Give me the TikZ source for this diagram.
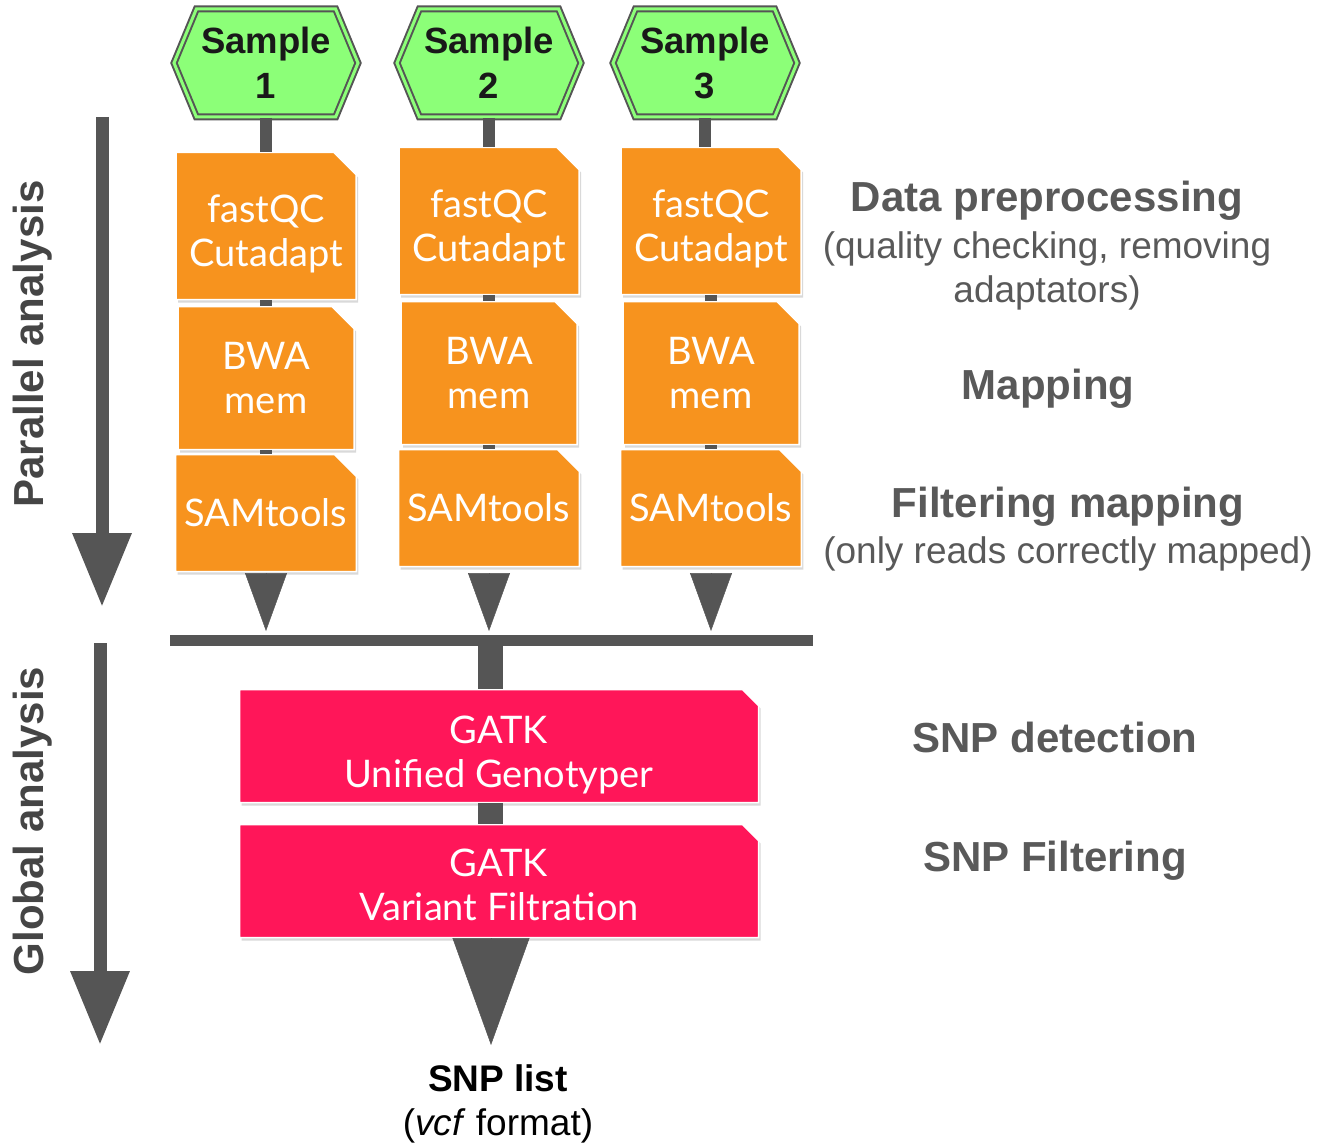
\documentclass[tikz,border=0pt]{standalone}
\usepackage{fontspec}
\setmainfont{Liberation Sans}
\newfontfamily\toolfont{Lato}
\usetikzlibrary{calc,shapes.symbols,shapes.misc,shadows,arrows.meta}
\definecolor{flowgray}{HTML}{555555}
\definecolor{samplegreen}{HTML}{8CFF78}
\definecolor{toolorange}{HTML}{F7931E}
\definecolor{gatkred}{HTML}{FF1659}
\definecolor{labelgray}{HTML}{595959}
\definecolor{axisgray}{HTML}{454545}
\tikzstyle{sample} = [signal, signal to=west and east, signal pointer angle=135, draw=flowgray, line width=2pt, double=samplegreen, double distance=3pt, fill=samplegreen, minimum width=184pt, minimum height=108pt, inner sep=0pt, align=center, text=black!90, font=\fontsize{36.5}{45}\selectfont\bfseries, drop shadow={shadow xshift=2pt, shadow yshift=-3pt, opacity=0.3}]
\tikzstyle{tool} = [chamfered rectangle, chamfered rectangle corners=north east, chamfered rectangle xsep=11pt, chamfered rectangle ysep=11pt, draw=white, line width=1.5pt, fill=toolorange, text=white, align=center, minimum width=180pt, inner xsep=-2pt, inner ysep=0pt, font=\toolfont\fontsize{38}{44}\selectfont, drop shadow={shadow xshift=2pt, shadow yshift=-3pt, opacity=0.3}]
\tikzstyle{gatk} = [tool, fill=gatkred, chamfered rectangle xsep=8pt, chamfered rectangle ysep=8pt, minimum width=519pt, minimum height=113pt]
\tikzstyle{link} = [draw=flowgray, line width=12pt]
\tikzstyle{trunk} = [draw=flowgray, line width=25pt]
\tikzstyle{merge} = [draw=flowgray, line width=0.5pt, shorten <=6pt, -{Triangle[width=42pt,length=58pt]}]
\tikzstyle{phasearrow} = [draw=flowgray, line width=13pt, -{Triangle[width=56pt,length=74pt]}]
\tikzstyle{phaselabel} = [rotate=90, text=axisgray, font=\fontsize{42}{48}\selectfont\bfseries]
\tikzstyle{steptitle} = [align=center, text=labelgray, font=\fontsize{42}{48}\selectfont\bfseries]
\tikzstyle{stepnote} = [align=center, text=labelgray, font=\fontsize{37}{44}\selectfont]

\begin{document}
\begin{tikzpicture}[x=1pt, y=-1pt]
        \useasboundingbox (0,0) rectangle (1321,1142);
        \node (s1) [sample] at (266,63) {Sample\\1};
        \node (s2) [sample] at (489,63) {Sample\\2};
        \node (s3) [sample] at (705,63) {Sample\\3};
        \node (qc1) [tool, below of = s1, node distance = 163pt, minimum height=147pt, text height=88pt] {fastQC\\Cutadapt};
        \node (qc2) [tool, below of = s2, node distance = 158pt, minimum height=147pt, text height=88pt] {fastQC\\Cutadapt};
        \node (qc3) [tool, below of = s3, node distance = 158pt, minimum height=147pt, text height=88pt, xshift=6pt] {fastQC\\Cutadapt};
        \node (bwa1) [tool, below of = qc1, node distance = 152pt, minimum height=143pt, minimum width=176pt] {BWA\\mem};
        \node (bwa2) [tool, below of = qc2, node distance = 152pt, minimum height=143pt, minimum width=176pt] {BWA\\mem};
        \node (bwa3) [tool, below of = qc3, node distance = 152pt, minimum height=143pt, minimum width=176pt] {BWA\\mem};
        \node (sam1) [tool, below of = bwa1, node distance = 135pt, minimum height=117pt] {SAMtools};
        \node (sam2) [tool, below of = bwa2, node distance = 135pt, minimum height=117pt] {SAMtools};
        \node (sam3) [tool, below of = bwa3, node distance = 135pt, minimum height=117pt] {SAMtools};
        \coordinate (barL) at (170,640);
        \coordinate (barR) at (813,640);
        \coordinate (bartop) at (170,631);
        \coordinate (hub) at (490,640);
        \node (ug) [gatk, text height=89pt] at (499,746) {GATK\\Unified Genotyper};
        \node (vf) [gatk, text height=79pt, below of = ug, node distance = 135pt] {GATK\\Variant Filtration};
        \coordinate (result) at (491,1045);
        \node (snp) [align=center, font=\fontsize{37}{44}\selectfont] at (498,1104) {\textbf{SNP list}\\(\textit{vcf} format)};
        \draw [link] (s1.south) -- (qc1.north);
        \draw [link] (s2.south) -- (qc2.north);
        \draw [link] (s3.south) -- (s3.south |- qc3.north);
        \draw [link] (qc1.south) -- (bwa1.north);
        \draw [link] (qc2.south) -- (bwa2.north);
        \draw [link] (qc3.south) -- (bwa3.north);
        \draw [link] (bwa1.south) -- (sam1.north);
        \draw [link] (bwa2.south) -- (sam2.north);
        \draw [link] (bwa3.south) -- (sam3.north);
        \draw [merge] (sam1.south) -- (sam1.south |- bartop);
        \draw [merge] (sam2.south) -- (sam2.south |- bartop);
        \draw [merge] (sam3.south) -- (sam3.south |- bartop);
        \draw [link, line width=11pt] (barL) -- (barR);
        \draw [trunk] (hub) -- (hub |- ug.north);
        \draw [trunk] (hub |- ug.south) -- (hub |- vf.north);
        \draw [draw=flowgray, line width=0.5pt, -{Triangle[width=77pt,length=107pt]}] (result |- vf.south) -- (result);
        % phases on the left
        \coordinate (par-top) at (102,117);
        \coordinate (par-end) at (102,607);
        \coordinate (glob-top) at (100,643);
        \coordinate (glob-end) at (100,1045);
        \draw [phasearrow] (par-top) -- (par-end);
        \draw [phasearrow] (glob-top) -- (glob-end);
        \node (par-label) [phaselabel] at (33,344) {Parallel analysis};
        \node (glob-label) [phaselabel] at (33,821) {Global analysis};
        % steps on the right
        \node (prep) [steptitle] at (1047,201) {Data preprocessing};
        \node (prep-note) [stepnote, below of = prep, node distance = 70pt] {(quality checking, removing\\adaptators)};
        \node (map) [steptitle] at (1048,389) {Mapping};
        \node (filt) [steptitle] at (1068,507) {Filtering mapping};
        \node (filt-note) [stepnote, below of = filt, node distance = 47pt] {(only reads correctly mapped)};
        \node (detect) [steptitle] at (1055,737) {SNP detection};
        \node (snpfilt) [steptitle] at (1055,861) {SNP Filtering};
\end{tikzpicture}
\end{document}
